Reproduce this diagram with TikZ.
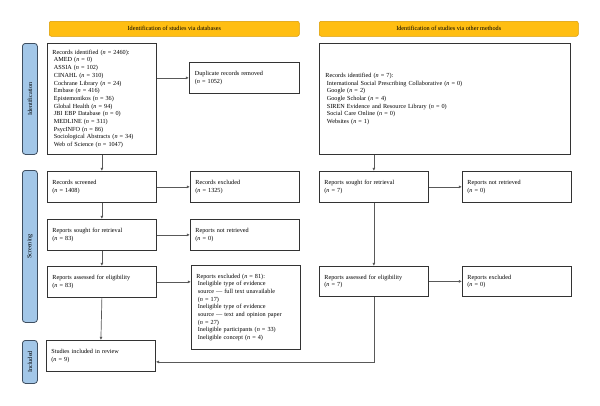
\documentclass[tikz,border=0pt]{standalone}
\usepackage{fontspec}
\setmainfont{Liberation Serif}
\usetikzlibrary{arrows.meta}

\definecolor{hdrfill}{HTML}{FFBE12}
\definecolor{hdrline}{HTML}{D99A00}
\definecolor{sidefill}{HTML}{A3C7E8}
\definecolor{sideline}{HTML}{3E4E60}

\tikzset{
  txt/.style={font=\fontsize{6.2}{7.7}\selectfont},
  hdr/.style={txt, draw=hdrline, fill=hdrfill, rounded corners=2pt, line width=0.5pt,
    minimum height=15pt, anchor=north west, inner sep=0pt},
  side/.style={txt, draw=sideline, fill=sidefill, rounded corners=3pt, line width=0.8pt,
    minimum width=15pt, anchor=north west, inner sep=0pt},
  stage/.style={txt, draw=black!80, line width=0.8pt, anchor=north west, align=left,
    minimum width=109pt, minimum height=31pt, text width=99pt, inner xsep=5pt, inner ysep=0pt},
  flow/.style={draw=black!65, line width=0.7pt, -{Latex[length=3.2pt,width=3pt]}}
}

\begin{document}
\begin{tikzpicture}[x=1pt,y=-1pt]
    \useasboundingbox[fill=white] (0,0) rectangle (600,405);

    % headers
    \node[hdr, minimum width=250pt] (hdrA) at (49,21) {Identification of studies via databases};
    \node[hdr, minimum width=259pt] (hdrB) at (319,21) {Identification of studies via other methods};

    % phases
    \node[side, minimum height=111pt] (sideA) at (22,43) {};
    \node[txt, rotate=90] at (sideA.center) {Identification};
    \node[side, minimum height=152pt] (sideB) at (22,170) {};
    \node[txt, rotate=90] at (sideB.center) {Screening};
    \node[side, minimum height=43pt] (sideC) at (22,340) {};
    \node[txt, rotate=90] at (sideC.center) {Included};

    % databases
    \node[stage, minimum height=111pt] (recA) at (47,43) {Records identified (\textit{n} = 2460):\\
      \hspace{1.5pt}AMED (\textit{n} = 0)\\
      \hspace{1.5pt}ASSIA (\textit{n} = 102)\\
      \hspace{1.5pt}CINAHL (\textit{n} = 310)\\
      \hspace{1.5pt}Cochrane Library (\textit{n} = 24)\\
      \hspace{1.5pt}Embase (\textit{n} = 416)\\
      \hspace{1.5pt}Epistemonikos (\textit{n} = 36)\\
      \hspace{1.5pt}Global Health (\textit{n} = 94)\\
      \hspace{1.5pt}JBI EBP Database (\textit{n} = 0)\\
      \hspace{1.5pt}MEDLINE (\textit{n} = 311)\\
      \hspace{1.5pt}PsycINFO (\textit{n} = 86)\\
      \hspace{1.5pt}Sociological Abstracts (\textit{n} = 34)\\
      \hspace{1.5pt}Web of Science (\textit{n} = 1047)};
    \node[stage, minimum width=110pt] (dup) at (189,62) {Duplicate records removed\\(\textit{n} = 1052)};
    \node[stage] (scr) at (47,171) {Records screened\\(\textit{n} = 1408)};
    \node[stage] (exc) at (190,171) {Records excluded\\(\textit{n} = 1325)};
    \node[stage] (sghtA) at (47,219) {Reports sought for retrieval\\(\textit{n} = 83)};
    \node[stage] (nretA) at (190,219) {Reports not retrieved\\(\textit{n} = 0)};
    \node[stage] (assA) at (47,266) {Reports assessed for eligibility\\(\textit{n} = 83)};
    \node[stage, minimum width=108pt, minimum height=84pt] (exclA) at (191,265) {Reports excluded (\textit{n} = 81):\\
      \hspace{1.5pt}Ineligible type of evidence\\
      \hspace{1.5pt}source --- full text unavailable\\
      \hspace{1.5pt}(\textit{n} = 17)\\
      \hspace{1.5pt}Ineligible type of evidence\\
      \hspace{1.5pt}source --- text and opinion paper\\
      \hspace{1.5pt}(\textit{n} = 27)\\
      \hspace{1.5pt}Ineligible participants (\textit{n} = 33)\\
      \hspace{1.5pt}Ineligible concept (\textit{n} = 4)};
    \node[stage] (incl) at (46,340) {Studies included in review\\(\textit{n} = 9)};

    % other methods
    \node[stage, minimum width=251pt, text width=239pt, inner xsep=6pt, minimum height=111pt] (recB) at (319,43) {Records identified (\textit{n} = 7):\\
      \hspace{1.5pt}International Social Prescribing Collaborative (\textit{n} = 0)\\
      \hspace{1.5pt}Google (\textit{n} = 2)\\
      \hspace{1.5pt}Google Scholar (\textit{n} = 4)\\
      \hspace{1.5pt}SIREN Evidence and Resource Library (\textit{n} = 0)\\
      \hspace{1.5pt}Social Care Online (\textit{n} = 0)\\
      \hspace{1.5pt}Websites (\textit{n} = 1)};
    \node[stage] (sghtB) at (319,171) {Reports sought for retrieval\\(\textit{n} = 7)};
    \node[stage, minimum width=108pt] (nretB) at (462,171) {Reports not retrieved\\(\textit{n} = 0)};
    \node[stage, minimum height=30pt] (assB) at (319,266) {Reports assessed for eligibility\\(\textit{n} = 7)};
    \node[stage, minimum width=108pt, minimum height=30pt] (exclB) at (462,266) {Reports excluded\\(\textit{n} = 0)};

    % connectors
    \draw[flow] (recA.east |- dup.west) -- (dup.west);
    \draw[flow] (recA.south) -- (scr.north);
    \draw[flow] (scr.east) -- (exc.west);
    \draw[flow] (scr.south) -- (sghtA.north);
    \draw[flow] (sghtA.east) -- (nretA.west);
    \draw[flow] (sghtA.south) -- (assA.north);
    \draw[flow] (assA.east) -- (assA.east -| exclA.west);
    \draw[flow] (assA.south) -- (incl.north);

    \draw[flow] (sghtB.north |- recB.south) -- (sghtB.north);
    \draw[flow] (sghtB.east) -- (nretB.west);
    \draw[flow] (sghtB.south) -- (assB.north);
    \draw[flow] (assB.east) -- (exclB.west);
    \draw[flow] (assB.south) |- ([yshift=-6pt]incl.east);

\end{tikzpicture}
\end{document}
